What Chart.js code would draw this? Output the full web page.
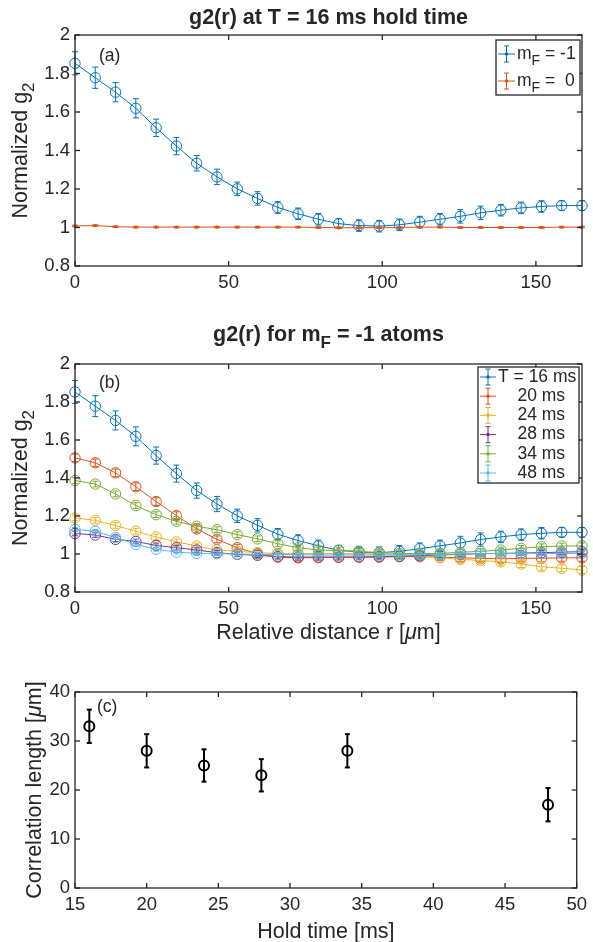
<!DOCTYPE html>
<html>
<head>
<meta charset="utf-8">
<script src="https://cdn.jsdelivr.net/npm/chart.js@4.4.1/dist/chart.umd.min.js"></script>
<style>
  body { margin: 0; background: #fff; width: 593px; height: 942px; position: relative; overflow: hidden; }
  canvas { position: absolute; left: 0; }
</style>
</head>
<body>
<canvas id="chartA" width="593" height="300" style="top:0px"></canvas>
<canvas id="chartB" width="593" height="345" style="top:300px"></canvas>
<canvas id="chartC" width="593" height="297" style="top:645px"></canvas>
<script>
// relative distance r [um]
const distance = [0, 6.6, 13.2, 19.8, 26.4, 33, 39.6, 46.2, 52.8, 59.4, 66, 72.6, 79.2,
  85.8, 92.4, 99, 105.6, 112.2, 118.8, 125.4, 132, 138.6, 145.2, 151.8, 158.4, 165];

// normalized g2, mF = -1, per hold time
const g2_16ms = [1.853, 1.778, 1.703, 1.619, 1.518, 1.423, 1.334, 1.263, 1.201, 1.151, 1.104, 1.071, 1.043,
  1.02, 1.01, 1.007, 1.014, 1.028, 1.043, 1.058, 1.076, 1.09, 1.102, 1.109, 1.114, 1.114];
const err_16ms = [0.06, 0.055, 0.05, 0.05, 0.045, 0.045, 0.04, 0.04, 0.035, 0.035, 0.03, 0.03, 0.03,
  0.025, 0.03, 0.03, 0.03, 0.03, 0.03, 0.035, 0.035, 0.03, 0.03, 0.03, 0.025, 0.025];
const g2_20ms = [1.506, 1.48, 1.427, 1.354, 1.276, 1.202, 1.132, 1.077, 1.033, 1.002, 0.984, 0.98, 0.981,
  0.983, 0.984, 0.984, 0.986, 0.986, 0.983, 0.98, 0.977, 0.975, 0.977, 0.978, 0.98, 0.98];
const err_20ms = [0.02, 0.02, 0.02, 0.02, 0.02, 0.02, 0.02, 0.018, 0.018, 0.015, 0.015, 0.015, 0.015,
  0.015, 0.015, 0.015, 0.015, 0.015, 0.015, 0.018, 0.018, 0.018, 0.018, 0.018, 0.018, 0.018];
const g2_24ms = [1.19, 1.177, 1.15, 1.12, 1.089, 1.064, 1.042, 1.021, 1.014, 1.007, 1.003, 1.002, 1.002,
  1.002, 1.002, 1.0, 0.997, 0.99, 0.981, 0.972, 0.966, 0.959, 0.947, 0.933, 0.925, 0.916];
const err_24ms = [0.015, 0.015, 0.015, 0.015, 0.015, 0.015, 0.015, 0.015, 0.015, 0.015, 0.015, 0.015, 0.015,
  0.015, 0.015, 0.015, 0.015, 0.015, 0.015, 0.018, 0.018, 0.018, 0.018, 0.018, 0.018, 0.018];
const g2_28ms = [1.108, 1.1, 1.077, 1.066, 1.045, 1.033, 1.021, 1.007, 0.998, 0.993, 0.986, 0.984, 0.984,
  0.984, 0.984, 0.986, 0.988, 0.991, 0.995, 0.998, 1.002, 1.003, 1.005, 1.007, 1.01, 1.012];
const err_28ms = [0.012, 0.012, 0.012, 0.012, 0.012, 0.012, 0.012, 0.012, 0.012, 0.012, 0.012, 0.012, 0.012,
  0.012, 0.012, 0.012, 0.012, 0.012, 0.012, 0.012, 0.012, 0.012, 0.012, 0.012, 0.012, 0.012];
const g2_34ms = [1.387, 1.368, 1.316, 1.255, 1.207, 1.172, 1.146, 1.128, 1.102, 1.08, 1.054, 1.033, 1.021,
  1.018, 1.014, 1.007, 1.003, 1.002, 1.003, 1.009, 1.014, 1.021, 1.03, 1.038, 1.042, 1.043];
const err_34ms = [0.015, 0.015, 0.015, 0.015, 0.015, 0.015, 0.015, 0.015, 0.015, 0.015, 0.015, 0.015, 0.015,
  0.015, 0.015, 0.015, 0.015, 0.015, 0.015, 0.015, 0.015, 0.015, 0.015, 0.015, 0.015, 0.015];
const g2_48ms = [1.129, 1.12, 1.087, 1.051, 1.025, 1.01, 1.003, 1.002, 1.0, 0.998, 0.998, 0.997, 0.995,
  0.995, 0.995, 0.995, 0.995, 0.997, 0.998, 1.0, 1.002, 1.003, 1.003, 1.003, 1.003, 1.003];
const err_48ms = [0.01, 0.01, 0.01, 0.01, 0.01, 0.01, 0.01, 0.01, 0.01, 0.01, 0.01, 0.01, 0.01,
  0.01, 0.01, 0.01, 0.01, 0.01, 0.01, 0.01, 0.01, 0.01, 0.01, 0.01, 0.01, 0.01];

// mF = 0 at 16 ms
const g2_mf0 = [1.008, 1.01, 1.004, 1.002, 1.002, 1.002, 1.002, 1.002, 1.002, 1.002, 1.002, 1.002, 1.0,
  0.999, 0.999, 0.999, 1.0, 1.002, 1.002, 1.0, 1.0, 1.0, 1.0, 1.0, 1.002, 1.002];
const err_mf0 = [0.004, 0.004, 0.004, 0.004, 0.004, 0.004, 0.004, 0.004, 0.004, 0.004, 0.004, 0.004, 0.004,
  0.004, 0.004, 0.004, 0.004, 0.004, 0.004, 0.004, 0.004, 0.004, 0.004, 0.004, 0.004, 0.004];

// panel (c)
const holdTime = [16, 20, 24, 28, 34, 48];
const corrLength = [33, 28, 25, 23, 28, 17];
const corrErr = [3.4, 3.4, 3.3, 3.3, 3.4, 3.4];

const holdLabels = ['T = 16 ms', '    20 ms', '    24 ms', '    28 ms', '    34 ms', '    48 ms'];
const colors = ['#0072BD', '#D95319', '#EDB120', '#7E2F8E', '#77AC30', '#4DBEEE'];

const FONT = '"Liberation Sans", Arial, Helvetica, sans-serif';
const INK = '#262626';
const LABEL_SIZE = 21.5;

// '_X' -> subscript X, '~X' -> italic X
function richText(ctx, str, x, y, size, weight, align) {
  const segs = [];
  for (let i = 0; i < str.length; i++) {
    const c = str[i];
    if (c === '_') { segs.push({ t: str[i + 1], sub: true }); i++; }
    else if (c === '~') { segs.push({ t: str[i + 1], it: true }); i++; }
    else {
      const last = segs[segs.length - 1];
      if (last && !last.sub && !last.it) last.t += c;
      else segs.push({ t: c });
    }
  }
  const fontFor = s => (s.it ? 'italic ' : '') + weight + ' ' + (s.sub ? Math.round(size * 0.78) : size) + 'px ' + FONT;
  let w = 0;
  segs.forEach(s => { ctx.font = fontFor(s); s.w = ctx.measureText(s.t).width; w += s.w; });
  let cx = align === 'center' ? x - w / 2 : (align === 'right' ? x - w : x);
  ctx.textAlign = 'left';
  ctx.textBaseline = 'middle';
  segs.forEach(s => {
    ctx.font = fontFor(s);
    ctx.fillText(s.t, cx, s.sub ? y + size * 0.38 : y);
    cx += s.w;
  });
}

function line(ctx, x1, y1, x2, y2) {
  ctx.beginPath(); ctx.moveTo(x1, y1); ctx.lineTo(x2, y2); ctx.stroke();
}

const panelPlugin = {
  id: 'panel',
  afterDatasetDraw(chart, args) {
    const ds = chart.data.datasets[args.index];
    if (!ds.errors) return;
    const ctx = chart.ctx;
    const ys = chart.scales.y;
    ctx.save();
    ctx.strokeStyle = ds.borderColor;
    ctx.lineWidth = ds.errWidth || 1;
    const cap = ds.capHalf || 3;
    args.meta.data.forEach((el, i) => {
      const v = ds.data[i].y, e = ds.errors[i];
      const y1 = ys.getPixelForValue(v - e), y2 = ys.getPixelForValue(v + e);
      line(ctx, el.x, y1, el.x, y2);
      line(ctx, el.x - cap, y1, el.x + cap, y1);
      line(ctx, el.x - cap, y2, el.x + cap, y2);
    });
    ctx.restore();
  },
  afterDraw(chart, args, opts) {
    const ctx = chart.ctx;
    const { left, right, top, bottom } = chart.chartArea;
    ctx.save();
    // box and inward ticks
    ctx.strokeStyle = INK;
    ctx.lineWidth = 1.3;
    ctx.strokeRect(left, top, right - left, bottom - top);
    const xs = chart.scales.x, ys = chart.scales.y;
    xs.ticks.forEach(t => {
      const px = xs.getPixelForValue(t.value);
      line(ctx, px, bottom, px, bottom - 5);
      line(ctx, px, top, px, top + 5);
    });
    ys.ticks.forEach(t => {
      const py = ys.getPixelForValue(t.value);
      line(ctx, left, py, left + 5, py);
      line(ctx, right, py, right - 5, py);
    });
    ctx.fillStyle = INK;
    const cx = (left + right) / 2;
    if (opts.title) richText(ctx, opts.title, cx, opts.titleY, LABEL_SIZE, 'bold', 'center');
    if (opts.xTitle) richText(ctx, opts.xTitle, cx, opts.xTitleY, LABEL_SIZE, 'normal', 'center');
    if (opts.yTitle) {
      ctx.save();
      ctx.translate(opts.yTitleX, (top + bottom) / 2);
      ctx.rotate(-Math.PI / 2);
      richText(ctx, opts.yTitle, 0, 0, LABEL_SIZE, 'normal', 'center');
      ctx.restore();
    }
    if (opts.tag) richText(ctx, opts.tag, opts.tagX, opts.tagY, 17.5, 'normal', 'left');
    // legend
    const lg = opts.legend;
    if (lg) {
      ctx.fillStyle = '#fff';
      ctx.fillRect(lg.x, lg.y, lg.w, lg.h);
      ctx.strokeStyle = INK;
      ctx.lineWidth = 1.3;
      ctx.strokeRect(lg.x, lg.y, lg.w, lg.h);
      chart.data.datasets.forEach((ds, i) => {
        const ry = lg.firstY + i * lg.rowH;
        const x0 = lg.x + 2, x1 = lg.x + 2 + lg.iconW, xm = (x0 + x1) / 2;
        ctx.strokeStyle = ds.borderColor;
        ctx.lineWidth = 1;
        line(ctx, x0, ry, x1, ry);
        line(ctx, xm, ry - 8, xm, ry + 8);
        line(ctx, xm - 2.5, ry - 8, xm + 2.5, ry - 8);
        line(ctx, xm - 2.5, ry + 8, xm + 2.5, ry + 8);
        ctx.fillStyle = ds.borderColor;
        ctx.beginPath(); ctx.arc(xm, ry, 1.8, 0, Math.PI * 2); ctx.fill();
        ctx.fillStyle = INK;
        richText(ctx, ds.label, lg.textX, ry, 17.5, 'normal', 'left');
      });
    }
    ctx.restore();
  }
};

function makeOptions(H, plotTop, plotBottom, xr, yr, panel) {
  const tickFont = { family: FONT, size: 18.5 };
  const fmt = v => String(+v.toFixed(2));
  return {
    responsive: false,
    animation: false,
    devicePixelRatio: 1,
    layout: { padding: { top: plotTop, right: 11, left: 0, bottom: 0 } },
    plugins: { legend: { display: false }, tooltip: { enabled: false }, panel: panel },
    scales: {
      x: {
        type: 'linear', min: xr[0], max: xr[1],
        grid: { display: false, drawTicks: false }, border: { display: false },
        ticks: { stepSize: xr[2], includeBounds: false, padding: 6, color: INK, font: tickFont, maxRotation: 0, autoSkip: false, callback: fmt },
        afterFit: s => { s.height = H - plotBottom; }
      },
      y: {
        type: 'linear', min: yr[0], max: yr[1],
        grid: { display: false, drawTicks: false }, border: { display: false },
        ticks: { stepSize: yr[2], includeBounds: false, padding: 5, color: INK, font: tickFont, autoSkip: false, callback: fmt },
        afterFit: s => { s.width = 75; }
      }
    }
  };
}

function g2Dataset(label, values, errors, color, order, small) {
  return {
    label: label,
    data: distance.map((r, i) => ({ x: r, y: values[i] })),
    errors: errors,
    borderColor: color,
    backgroundColor: color,
    borderWidth: 1,
    pointStyle: 'circle',
    pointRadius: small ? 1.6 : 5.2,
    pointBorderWidth: small ? 0 : 1,
    pointBackgroundColor: small ? color : 'rgba(0,0,0,0)',
    pointBorderColor: color,
    fill: false,
    clip: false,
    order: order
  };
}

new Chart(document.getElementById('chartA'), {
  type: 'line',
  data: {
    datasets: [
      g2Dataset('m_F = -1', g2_16ms, err_16ms, colors[0], 2, false),
      g2Dataset('m_F =  0', g2_mf0, err_mf0, colors[1], 1, true)
    ]
  },
  options: makeOptions(300, 35, 266, [0, 165, 50], [0.8, 2, 0.2], {
    title: 'g2(r) at T = 16 ms hold time', titleY: 18,
    yTitle: 'Normalized g_2', yTitleX: 21,
    tag: '(a)', tagX: 99, tagY: 56,
    legend: { x: 496, y: 40, w: 84, h: 55, firstY: 54, rowH: 27, iconW: 17, textX: 517 }
  }),
  plugins: [panelPlugin]
});

const bValues = [g2_16ms, g2_20ms, g2_24ms, g2_28ms, g2_34ms, g2_48ms];
const bErrors = [err_16ms, err_20ms, err_24ms, err_28ms, err_34ms, err_48ms];

new Chart(document.getElementById('chartB'), {
  type: 'line',
  data: {
    datasets: bValues.map((v, i) => g2Dataset(holdLabels[i], v, bErrors[i], colors[i], 6 - i, false))
  },
  options: makeOptions(345, 64, 292, [0, 165, 50], [0.8, 2, 0.2], {
    title: 'g2(r) for m_F = -1 atoms', titleY: 35,
    xTitle: 'Relative distance r [~\u03bcm]', xTitleY: 333,
    yTitle: 'Normalized g_2', yTitleX: 21,
    tag: '(b)', tagX: 99, tagY: 83,
    legend: { x: 478, y: 67, w: 101, h: 116, firstY: 77, rowH: 19.2, iconW: 16, textX: 498 }
  }),
  plugins: [panelPlugin]
});

new Chart(document.getElementById('chartC'), {
  type: 'scatter',
  data: {
    datasets: [{
      label: 'Correlation length',
      data: holdTime.map((t, i) => ({ x: t, y: corrLength[i] })),
      errors: corrErr,
      errWidth: 2,
      capHalf: 2.5,
      borderColor: '#000',
      backgroundColor: 'rgba(0,0,0,0)',
      showLine: false,
      pointStyle: 'circle',
      pointRadius: 5,
      pointBorderWidth: 2,
      clip: false
    }]
  },
  options: makeOptions(297, 47, 243, [15, 50, 5], [0, 40, 10], {
    xTitle: 'Hold time [ms]', xTitleY: 287,
    yTitle: 'Correlation length [~\u03bcm]', yTitleX: 35,
    tag: '(c)', tagX: 97, tagY: 62
  }),
  plugins: [panelPlugin]
});
</script>
</body>
</html>
